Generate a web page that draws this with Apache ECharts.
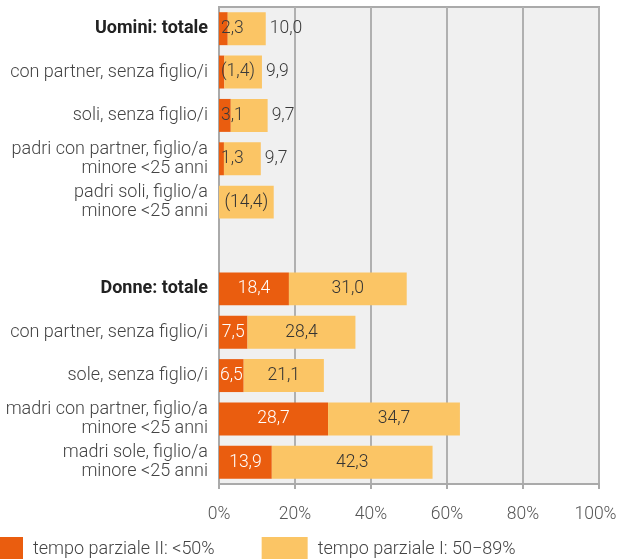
<!DOCTYPE html>
<html>
<head>
<meta charset="utf-8">
<script src="https://cdn.jsdelivr.net/npm/echarts@6/dist/echarts.min.js"></script>
<style>html,body{margin:0;padding:0;background:#fff}#c{width:617px;height:559px}</style>
</head>
<body>
<div id="c"></div>
<script>
var categories = ['Uomini: totale','con partner, senza figlio/i','soli, senza figlio/i','padri con partner, figlio/a\nminore <25 anni','padri soli, figlio/a\nminore <25 anni','','Donne: totale','con partner, senza figlio/i','sole, senza figlio/i','madri con partner, figlio/a\nminore <25 anni','madri sole, figlio/a\nminore <25 anni'];
var partII = [2.3,1.4,3.1,1.3,null,null,18.4,7.5,6.5,28.7,13.9];
var partI = [10.0,9.9,9.7,9.7,14.4,null,31.0,28.4,21.1,34.7,42.3];
var partIILabels = ['2,3','(1,4)','3,1','1,3','','','18,4','7,5','6,5','28,7','13,9'];
var partILabels = ['10,0','9,9','9,7','9,7','(14,4)','','31,0','28,4','21,1','34,7','42,3'];
var xTicks = [0,20,40,60,80,100];
var seriesNames = ['tempo parziale II: <50%','tempo parziale I: 50\u221289%'];

var FONT = 'Roboto';
var FW = 300;
var isMen = function(i){ return i < 5; };

var dataII = partII.map(function(v,i){
  return {value: v, label: isMen(i)
    ? {position:'insideLeft', distance:2, color:'#3a3a3a'}
    : {position:'inside', color:'#ffffff'}};
});
var dataI = partI.map(function(v,i){
  var inside = !isMen(i) || partII[i] == null;
  return {value: v, label: inside
    ? {position:'inside', color:'#333333'}
    : {position:'right', distance:4, color:'#3a3a3a'}};
});

var chart = echarts.init(document.getElementById('c'), null, {renderer:'canvas'});
chart.setOption({
  animation:false,
  textStyle:{fontFamily:FONT, fontWeight:FW},
  grid:{left:219, right:18, top:7, bottom:75, outerBoundsMode:'none', containLabel:false,
        show:true, backgroundColor:'#f0f0f0', borderColor:'#aaaaaa', borderWidth:2},
  xAxis:{
    type:'value', min:0, max:100, interval:20,
    axisLine:{show:true, lineStyle:{color:'#aaaaaa', width:2}},
    axisTick:{show:true, length:5, lineStyle:{color:'#aaaaaa', width:2}},
    splitLine:{show:true, lineStyle:{color:'#b0b0b0', width:2}},
    axisLabel:{margin:22, fontSize:17.5, color:'#555555', fontFamily:FONT, fontWeight:FW,
      formatter:function(v){
        if (xTicks.indexOf(v) < 0) return '';
        return v === xTicks[xTicks.length-1] ? '{last|' + v + '%}' : v + '%';
      },
      rich:{last:{padding:[0,7,0,0], fontSize:17.5, color:'#555555', fontFamily:FONT, fontWeight:FW}}}
  },
  yAxis:{
    type:'category', inverse:true, data:categories,
    axisLine:{show:true, lineStyle:{color:'#aaaaaa', width:2}},
    axisTick:{show:false},
    axisLabel:{margin:11, fontSize:18, color:'#444444', lineHeight:19, fontFamily:FONT, fontWeight:FW,
      formatter:function(v){ return (v==='Uomini: totale' || v==='Donne: totale') ? '{b|'+v+'}' : v; },
      rich:{b:{fontWeight:'bold', color:'#222222', fontSize:18, fontFamily:FONT}}}
  },
  legend:{
    left:-23, top:537, padding:0, itemWidth:46, itemHeight:24, itemGap:47,
    icon:'rect',
    textStyle:{fontSize:18, color:'#444444', fontFamily:FONT, fontWeight:FW, padding:[0,0,0,5]},
    data:seriesNames
  },
  series:[
    {name:seriesNames[0], type:'bar', stack:'t', barWidth:'76%', itemStyle:{color:'#ea5d0f'},
     label:{show:true, fontSize:17.5, fontFamily:FONT, fontWeight:FW,
       formatter:function(p){ return partIILabels[p.dataIndex]; }},
     data:dataII},
    {name:seriesNames[1], type:'bar', stack:'t', barWidth:'76%', itemStyle:{color:'#fbc565'},
     label:{show:true, fontSize:17.5, fontFamily:FONT, fontWeight:FW,
       formatter:function(p){ return partILabels[p.dataIndex]; }},
     data:dataI}
  ]
});
</script>
</body>
</html>
